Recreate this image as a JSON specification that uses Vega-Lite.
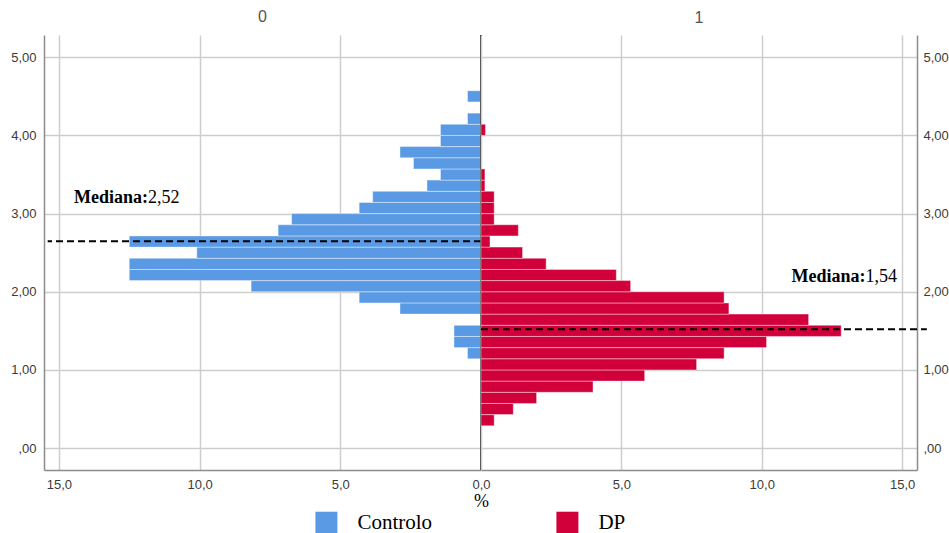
{
  "$schema": "https://vega.github.io/schema/vega-lite/v6.json",
  "padding": {"left": 10, "top": 9, "right": 0, "bottom": 0},
  "background": "white",
  "bounds": "flush",
  "spacing": 0,
  "datasets": {
    "bins": [
      {"group": "Controlo", "panel": "0", "lo": 1.1429, "hi": 1.2857, "pct": 0.48},
      {"group": "Controlo", "panel": "0", "lo": 1.2857, "hi": 1.4286, "pct": 0.96},
      {"group": "Controlo", "panel": "0", "lo": 1.4286, "hi": 1.5714, "pct": 0.96},
      {"group": "Controlo", "panel": "0", "lo": 1.7143, "hi": 1.8571, "pct": 2.88},
      {"group": "Controlo", "panel": "0", "lo": 1.8571, "hi": 2.0, "pct": 4.33},
      {"group": "Controlo", "panel": "0", "lo": 2.0, "hi": 2.1429, "pct": 8.17},
      {"group": "Controlo", "panel": "0", "lo": 2.1429, "hi": 2.2857, "pct": 12.5},
      {"group": "Controlo", "panel": "0", "lo": 2.2857, "hi": 2.4286, "pct": 12.5},
      {"group": "Controlo", "panel": "0", "lo": 2.4286, "hi": 2.5714, "pct": 10.1},
      {"group": "Controlo", "panel": "0", "lo": 2.5714, "hi": 2.7143, "pct": 12.5},
      {"group": "Controlo", "panel": "0", "lo": 2.7143, "hi": 2.8571, "pct": 7.21},
      {"group": "Controlo", "panel": "0", "lo": 2.8571, "hi": 3.0, "pct": 6.73},
      {"group": "Controlo", "panel": "0", "lo": 3.0, "hi": 3.1429, "pct": 4.33},
      {"group": "Controlo", "panel": "0", "lo": 3.1429, "hi": 3.2857, "pct": 3.85},
      {"group": "Controlo", "panel": "0", "lo": 3.2857, "hi": 3.4286, "pct": 1.92},
      {"group": "Controlo", "panel": "0", "lo": 3.4286, "hi": 3.5714, "pct": 1.44},
      {"group": "Controlo", "panel": "0", "lo": 3.5714, "hi": 3.7143, "pct": 2.40},
      {"group": "Controlo", "panel": "0", "lo": 3.7143, "hi": 3.8571, "pct": 2.88},
      {"group": "Controlo", "panel": "0", "lo": 3.8571, "hi": 4.0, "pct": 1.44},
      {"group": "Controlo", "panel": "0", "lo": 4.0, "hi": 4.1429, "pct": 1.44},
      {"group": "Controlo", "panel": "0", "lo": 4.1429, "hi": 4.2857, "pct": 0.48},
      {"group": "Controlo", "panel": "0", "lo": 4.4286, "hi": 4.5714, "pct": 0.48},
      {"group": "DP", "panel": "1", "lo": 0.2857, "hi": 0.4286, "pct": 0.47},
      {"group": "DP", "panel": "1", "lo": 0.4286, "hi": 0.5714, "pct": 1.15},
      {"group": "DP", "panel": "1", "lo": 0.5714, "hi": 0.7143, "pct": 1.98},
      {"group": "DP", "panel": "1", "lo": 0.7143, "hi": 0.8571, "pct": 3.99},
      {"group": "DP", "panel": "1", "lo": 0.8571, "hi": 1.0, "pct": 5.83},
      {"group": "DP", "panel": "1", "lo": 1.0, "hi": 1.1429, "pct": 7.68},
      {"group": "DP", "panel": "1", "lo": 1.1429, "hi": 1.2857, "pct": 8.66},
      {"group": "DP", "panel": "1", "lo": 1.2857, "hi": 1.4286, "pct": 10.17},
      {"group": "DP", "panel": "1", "lo": 1.4286, "hi": 1.5714, "pct": 12.83},
      {"group": "DP", "panel": "1", "lo": 1.5714, "hi": 1.7143, "pct": 11.67},
      {"group": "DP", "panel": "1", "lo": 1.7143, "hi": 1.8571, "pct": 8.83},
      {"group": "DP", "panel": "1", "lo": 1.8571, "hi": 2.0, "pct": 8.66},
      {"group": "DP", "panel": "1", "lo": 2.0, "hi": 2.1429, "pct": 5.33},
      {"group": "DP", "panel": "1", "lo": 2.1429, "hi": 2.2857, "pct": 4.82},
      {"group": "DP", "panel": "1", "lo": 2.2857, "hi": 2.4286, "pct": 2.32},
      {"group": "DP", "panel": "1", "lo": 2.4286, "hi": 2.5714, "pct": 1.48},
      {"group": "DP", "panel": "1", "lo": 2.5714, "hi": 2.7143, "pct": 0.32},
      {"group": "DP", "panel": "1", "lo": 2.7143, "hi": 2.8571, "pct": 1.33},
      {"group": "DP", "panel": "1", "lo": 2.8571, "hi": 3.0, "pct": 0.47},
      {"group": "DP", "panel": "1", "lo": 3.0, "hi": 3.1429, "pct": 0.47},
      {"group": "DP", "panel": "1", "lo": 3.1429, "hi": 3.2857, "pct": 0.47},
      {"group": "DP", "panel": "1", "lo": 3.2857, "hi": 3.4286, "pct": 0.14},
      {"group": "DP", "panel": "1", "lo": 3.4286, "hi": 3.5714, "pct": 0.14},
      {"group": "DP", "panel": "1", "lo": 4.0, "hi": 4.1429, "pct": 0.16}
    ],
    "medians": [
      {"group": "Controlo", "panel": "0", "label": "2,52", "lineY": 2.645},
      {"group": "DP", "panel": "1", "label": "1,54", "lineY": 1.522}
    ]
  },
  "hconcat": [
    {
      "width": 437,
      "height": 435,
      "title": {"text": "0", "font": "Liberation Sans", "fontSize": 16, "fontWeight": "normal", "color": "#555555", "baseline": "alphabetic", "offset": -4, "anchor": "middle"},
      "layer": [
        {
          "data": {"name": "bins"},
          "transform": [{"filter": "datum.panel == '0'"}],
          "mark": {"type": "bar", "stroke": "white", "strokeOpacity": 0.4, "strokeWidth": 1},
          "encoding": {
            "y": {"field": "lo", "type": "quantitative", "title": null,
              "scale": {"domain": [-0.28, 5.285], "nice": false, "zero": false},
              "axis": {"orient": "left", "values": [0, 1, 2, 3, 4, 5], "labelFlush": false,
                "labelExpr": "datum.value == 0 ? ',00' : replace(format(datum.value, '.2f'), '.', ',')"}},
            "y2": {"field": "hi"},
            "x": {"field": "pct", "type": "quantitative", "title": "%",
              "scale": {"domain": [0, 15.53], "nice": false, "reverse": true},
              "axis": {"values": [5, 10, 15], "labelFlush": false,
                "labelExpr": "replace(format(datum.value, '.1f'), '.', ',')",
                "titleX": 437, "titleY": 36, "titleBaseline": "alphabetic", "titleAlign": "center",
                "titleFont": "Liberation Serif", "titleFontSize": 18, "titleFontWeight": "normal", "titleColor": "black"}},
            "x2": {"datum": 0},
            "color": {"field": "group", "type": "nominal",
              "scale": {"domain": ["Controlo", "DP"], "range": ["#5a9ae4", "#d2003a"]},
              "legend": {"title": null, "labelFont": "Liberation Serif", "labelFontSize": 21, "labelColor": "black"}}
          }
        },
        {
          "data": {"values": [{}]},
          "mark": {"type": "rule", "color": "#333333", "strokeWidth": 2},
          "encoding": {"x": {"datum": 0}}
        },
        {
          "data": {"name": "medians"},
          "transform": [{"filter": "datum.panel == '0'"}],
          "mark": {"type": "rule", "color": "black", "strokeWidth": 2, "strokeDash": [7, 4]},
          "encoding": {
            "y": {"field": "lineY", "type": "quantitative", "title": null},
            "x": {"datum": 0},
            "x2": {"datum": 15.4}
          }
        },
        {
          "data": {"name": "medians"},
          "transform": [{"filter": "datum.panel == '0'"}],
          "mark": {"type": "text", "text": "Mediana:", "font": "Liberation Serif", "fontSize": 18, "fontWeight": "bold", "align": "right", "baseline": "middle", "color": "black"},
          "encoding": {"x": {"datum": 11.83}, "y": {"datum": 3.2}}
        },
        {
          "data": {"name": "medians"},
          "transform": [{"filter": "datum.panel == '0'"}],
          "mark": {"type": "text", "font": "Liberation Serif", "fontSize": 18, "align": "left", "baseline": "middle", "color": "black"},
          "encoding": {"x": {"datum": 11.83}, "y": {"datum": 3.2}, "text": {"field": "label"}}
        }
      ]
    },
    {
      "width": 436,
      "height": 435,
      "title": {"text": "1", "font": "Liberation Sans", "fontSize": 16, "fontWeight": "normal", "color": "#555555", "baseline": "alphabetic", "offset": -4, "anchor": "middle"},
      "layer": [
        {
          "data": {"name": "bins"},
          "transform": [{"filter": "datum.panel == '1'"}],
          "mark": {"type": "bar", "stroke": "white", "strokeOpacity": 0.4, "strokeWidth": 1},
          "encoding": {
            "y": {"field": "lo", "type": "quantitative", "title": null,
              "scale": {"domain": [-0.28, 5.285], "nice": false, "zero": false},
              "axis": {"orient": "right", "values": [0, 1, 2, 3, 4, 5], "labelFlush": false, "labelPadding": 6,
                "labelExpr": "datum.value == 0 ? ',00' : replace(format(datum.value, '.2f'), '.', ',')"}},
            "y2": {"field": "hi"},
            "x": {"field": "pct", "type": "quantitative", "title": null,
              "scale": {"domain": [0, 15.53], "nice": false},
              "axis": {"values": [0, 5, 10, 15], "labelFlush": false,
                "labelExpr": "replace(format(datum.value, '.1f'), '.', ',')"}},
            "x2": {"datum": 0},
            "color": {"field": "group", "type": "nominal",
              "scale": {"domain": ["Controlo", "DP"], "range": ["#5a9ae4", "#d2003a"]},
              "legend": {"title": null, "labelFont": "Liberation Serif", "labelFontSize": 21, "labelColor": "black"}}
          }
        },
        {
          "data": {"name": "medians"},
          "transform": [{"filter": "datum.panel == '1'"}],
          "mark": {"type": "rule", "color": "black", "strokeWidth": 2, "strokeDash": [7, 4]},
          "encoding": {
            "y": {"field": "lineY", "type": "quantitative", "title": null},
            "x": {"datum": 0},
            "x2": {"datum": 15.88}
          }
        },
        {
          "data": {"name": "medians"},
          "transform": [{"filter": "datum.panel == '1'"}],
          "mark": {"type": "text", "text": "Mediana:", "font": "Liberation Serif", "fontSize": 18, "fontWeight": "bold", "align": "right", "baseline": "middle", "color": "black"},
          "encoding": {"x": {"datum": 13.7}, "y": {"datum": 2.19}}
        },
        {
          "data": {"name": "medians"},
          "transform": [{"filter": "datum.panel == '1'"}],
          "mark": {"type": "text", "font": "Liberation Serif", "fontSize": 18, "align": "left", "baseline": "middle", "color": "black"},
          "encoding": {"x": {"datum": 13.7}, "y": {"datum": 2.19}, "text": {"field": "label"}}
        }
      ]
    }
  ],
  "resolve": {"scale": {"x": "independent", "y": "independent", "color": "shared"}},
  "config": {
    "view": {"stroke": null},
    "axis": {
      "grid": true, "gridColor": "#cdcdcd", "gridWidth": 1.5,
      "domain": true, "domainColor": "#8c8c8c", "domainWidth": 1.5,
      "ticks": false, "labelFont": "Liberation Sans", "labelFontSize": 13,
      "labelColor": "#3a3a3a", "labelPadding": 8
    },
    "legend": {
      "orient": "none", "legendX": 271.4, "legendY": 476.7,
      "direction": "horizontal", "columns": 2,
      "symbolType": "square", "symbolSize": 484, "symbolStrokeWidth": 0, "symbolOpacity": 1,
      "labelFont": "Liberation Serif", "labelFontSize": 21, "labelColor": "black",
      "labelOffset": 20, "columnPadding": 124, "labelLimit": 300
    }
  }
}
